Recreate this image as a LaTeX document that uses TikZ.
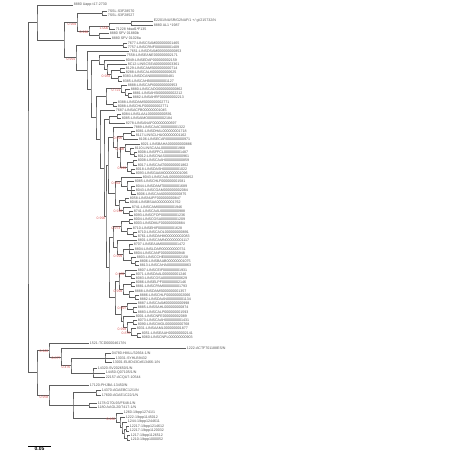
\documentclass[tikz,border=0pt]{standalone}
\usepackage{fontspec}
\setmainfont{Liberation Sans}
\usetikzlibrary{calc}

\definecolor{branchgray}{HTML}{5E5E5E}
\definecolor{labelgray}{HTML}{555555}
\definecolor{bootred}{HTML}{DB5A5A}

\tikzset{
  branch/.style={draw=branchgray, line width=0.5pt},
  tiplab/.style={anchor=west, inner sep=0.6pt, text=labelgray, font=\fontsize{3.6}{4}\selectfont},
  bootlab/.style={anchor=north east, inner sep=0.4pt, text=bootred, font=\fontsize{3.5}{3.9}\selectfont},
  scalelab/.style={anchor=north, inner sep=1pt, font=\fontsize{5}{6}\selectfont\bfseries}
}

% leaf: name, x, y, label
\newcommand{\tip}[4]{\coordinate (#1) at (#2,#3); \node[tiplab] (#1l) at (#1) {#4};}
% inner node: name, x, upper child, lower child
\newcommand{\clade}[4]{%
  \path let \p1=($(#3)!0.5!(#4)$) in coordinate (#1) at (#2pt,\y1);
  \draw[branch] (#3) -| (#1) |- (#4);}
% extra child of a node
\newcommand{\kid}[2]{\draw[branch] (#1) |- (#2);}
% support value
\newcommand{\boot}[2]{\node[bootlab] (#1b) at (#1) {#2};}

\begin{document}
\begin{tikzpicture}[x=1pt, y=-1pt]

  \useasboundingbox (0,0) rectangle (462,462);

  \begin{scope}[xshift=-99pt]

  % top group
  \tip{t1}{172}{5}{8880 Uapp-t17-2730}
  \tip{t2}{206}{11.5}{7SSL-S3F28570}
  \tip{t3}{206}{15.5}{7SSL-S3F28527}
  \tip{t4}{252}{21}{E2201/NUSR/G2NAF/1 +/ gi/215732/N}
  \tip{t5}{252}{25}{8880 AL1 *1987}
  \tip{t6}{214}{29}{71228 hbad1*F135}
  \tip{t7}{208}{33.5}{8880 SFV 01880b}
  \tip{t8}{210}{38}{8880 SFV 01028a}

  \clade{n1}{201}{t2}{t3}
  \clade{n2}{230}{t4}{t5}
  \clade{n3}{208}{n2}{t6}
  \clade{n4}{198}{t7}{t8}
  \clade{n5}{188}{n3}{n4}
  \clade{n6}{176}{n1}{n5}
  \boot{n3}{1.000}
  \boot{n5}{0.996}
  \boot{n6}{0.969}

  % big clade
  \tip{t9}{226}{43.0}{7677-LINSCSAM000000001465}
  \tip{t10}{226}{47.2}{7757-LINSCRNF000000001409}
  \tip{t11}{228}{51.4}{7651-LINSDSAM000000000853}
  \tip{t12}{225}{55.6}{7558-LINSEANE000000002171}
  \tip{t13}{224}{59.8}{8049-LINSEDAP000000002159}
  \tip{t14}{226}{64.0}{8C12-LINSCSEA000000003361}
  \tip{t15}{224}{68.2}{8129-LINSCAMS000000000714}
  \tip{t16}{224}{72.4}{8288-LINSCALK000000000625}
  \tip{t17}{221}{76.6}{8383-LINSDCAN000000000481}
  \tip{t18}{221}{80.8}{8385-LINSCAHB000000001127}
  \tip{t19}{226}{85.0}{8888-LINSCAPI000000000953}
  \tip{t20}{229}{89.2}{8880-LINSCADO000000000862}
  \tip{t21}{231}{93.4}{8881-LINSAHSI000000002212}
  \tip{t22}{231}{97.6}{8882-LINSAHRF000000002213}
  \tip{t23}{216}{101.8}{8388-LINSDAMS000000002771}
  \tip{t24}{216}{106.0}{8088-LINSCHLF000000002771}
  \tip{t25}{214}{110.2}{7687-LINSACFB000000001045}
  \tip{t26}{220}{114.4}{8084-LINSLAAL000000000591}
  \tip{t27}{220}{118.6}{8085-LINSAIMO000000002184}
  \tip{t28}{224}{122.8}{8278-LINSANAF000000000697}
  \tip{t29}{232}{127.0}{7889-LINSCAAC000000001322}
  \tip{t30}{234}{131.2}{8081-LINSDHAL000000001718}
  \tip{t31}{234}{135.4}{8117-LINSCLHU000000001162}
  \tip{t32}{237}{139.6}{8106-LINSECAR000000000971}
  \tip{t33}{239}{143.8}{8021-LINSBAHA000000000886}
  \tip{t34}{233}{148.0}{8110-LINSCAAL000000001968}
  \tip{t35}{236}{152.2}{8008-LINSFFCL000000001487}
  \tip{t36}{236}{156.4}{8012-LINSCNAS000000000961}
  \tip{t37}{236}{160.6}{8008-LINSCAAH000000000859}
  \tip{t38}{236}{164.8}{8017-LINSCAAT000000001862}
  \tip{t39}{234}{169.0}{8018-LINSDASH000000001022}
  \tip{t40}{234}{173.2}{8093-LINSGAAM000000001096}
  \tip{t41}{241}{177.4}{8043-LINSCAAL000000000852}
  \tip{t42}{233}{181.6}{8085-LINSCHLF000000001581}
  \tip{t43}{234}{185.8}{8044-LINSDAMT000000001689}
  \tip{t44}{234}{190.0}{8043-LINSCGAM000000002084}
  \tip{t45}{235}{194.2}{8006-LINSCAIA000000000875}
  \tip{t46}{228}{198.4}{8058-LINSNUPF000000000847}
  \tip{t47}{228}{202.6}{8046-LINSBSAA000000001762}
  \tip{t48}{230}{206.8}{8741-LINSCAMI000000001946}
  \tip{t49}{232}{211.0}{8741-LINSCAAU000000000988}
  \tip{t50}{232}{215.2}{8093-LINSCFOP000000001236}
  \tip{t51}{232}{219.4}{8004-LINSCOSA000000001209}
  \tip{t52}{232}{223.6}{8003-LINSDMLF000000000884}
  \tip{t53}{231}{227.8}{8710-LINSEHIF000000001628}
  \tip{t54}{236}{232.0}{8710-LINSCAOL000000000891}
  \tip{t55}{236}{236.2}{8761-LINSDAHM000000002083}
  \tip{t56}{236}{240.4}{8801-LINSCAMN000000001117}
  \tip{t57}{232}{244.6}{8707-LINSEAAM000000001472}
  \tip{t58}{233}{248.8}{8804-LINSLDAR000000000731}
  \tip{t59}{232}{253.0}{8804-LINSCANF000000000948}
  \tip{t60}{235}{257.2}{8803-LINSCCHE000000002158}
  \tip{t61}{238}{261.4}{8806-LINSBAAB000000001075}
  \tip{t62}{238}{265.6}{8813-LINSCAHA000000000863}
  \tip{t63}{236}{269.8}{8807-LINSCEIF000000001931}
  \tip{t64}{234}{274.0}{8071-LINSDAAL000000001246}
  \tip{t65}{234}{278.2}{8083-LINSCOSA000000000629}
  \tip{t66}{234}{282.4}{8086-LINSELPF000000002146}
  \tip{t67}{234}{286.6}{8881-LINSCPAM000000001793}
  \tip{t68}{233}{290.8}{8888-LINSDAMS000000001357}
  \tip{t69}{238}{295.0}{8886-LINSCHLF000000002066}
  \tip{t70}{238}{299.2}{8882-LINSDAAN000000001134}
  \tip{t71}{236}{303.4}{8887-LINSCAAM000000000998}
  \tip{t72}{236}{307.6}{8885-LINSSAHL000000000874}
  \tip{t73}{236}{311.8}{8883-LINSCALP000000001593}
  \tip{t74}{234}{316.0}{8001-LINSCNFE000000002089}
  \tip{t75}{236}{320.2}{8073-LINSCAAH000000001431}
  \tip{t76}{236}{324.4}{8090-LINSCMOL000000000768}
  \tip{t77}{235}{328.6}{8031-LINSAAML000000001877}
  \tip{t78}{240}{332.8}{8051-LINSEAAH000000002141}
  \tip{t79}{240}{337.0}{8060-LINSCNPL000000000903}

  \clade{P2}{222}{t9}{t10}
  \clade{G2d}{219}{t15}{t16}
  \clade{G2e}{217}{t17}{t18}
  \clade{G2c}{210}{G2d}{G2e}
  \clade{G2b}{206}{t14}{G2c}
  \clade{G2a}{203}{t13}{G2b}
  \clade{G2}{198}{t12}{G2a}
  \clade{G3c}{227}{t21}{t22}
  \clade{G3b}{224}{t20}{G3c}
  \clade{G3a}{220}{t19}{G3b}
  \clade{G3d}{212}{t23}{t24}
  \clade{G3}{205}{G3a}{G3d}
  \clade{G4a}{216}{t26}{t27}
  \clade{G4}{208}{G4a}{t28}
  \clade{G5a}{230}{t30}{t31}
  \clade{G5}{222}{G5a}{t32}
  \clade{G6b}{233}{t35}{t36}
  \clade{G6a}{229}{t34}{G6b}
  \clade{G6}{224}{t33}{G6a}
  \clade{G7a}{232}{t37}{t38}
  \clade{G7b}{230}{t39}{t40}
  \clade{G7}{226}{G7a}{G7b}
  \clade{H1d}{219}{G6}{G7}
  \clade{H1c}{216}{G5}{H1d}
  \clade{H1a}{212}{t29}{H1c}
  \clade{H1h}{230}{t43}{t45}
  \kid{H1h}{t44}
  \clade{H1g}{226}{t42}{H1h}
  \clade{H1e}{220}{t41}{H1g}
  \clade{H1i}{224}{t46}{t47}
  \clade{H1k}{228}{t49}{t50}
  \clade{H1j}{222}{t48}{H1k}
  \clade{H1f}{218}{H1i}{H1j}
  \clade{H1b}{214}{H1e}{H1f}
  \clade{H1}{207}{H1a}{H1b}
  \clade{H2e}{228}{t51}{t52}
  \clade{H2g}{232}{t54}{t55}
  \clade{H2f}{226}{t53}{H2g}
  \clade{H2c}{220}{H2e}{H2f}
  \clade{H2i}{228}{t57}{t59}
  \kid{H2i}{t58}
  \clade{H2k}{234}{t61}{t62}
  \clade{H2j}{230}{t60}{H2k}
  \clade{H2h}{222}{H2i}{H2j}
  \clade{H2d}{216}{t56}{H2h}
  \clade{H2a}{212}{H2c}{H2d}
  \clade{H2o}{230}{t64}{t65}
  \clade{H2n}{224}{t63}{H2o}
  \clade{H2q}{230}{t66}{t67}
  \clade{H2s}{234}{t69}{t70}
  \clade{H2r}{228}{t68}{H2s}
  \clade{H2p}{222}{H2q}{H2r}
  \clade{H2l}{218}{H2n}{H2p}
  \clade{H2u}{232}{t72}{t73}
  \clade{H2t}{226}{t71}{H2u}
  \clade{H2x}{232}{t75}{t76}
  \clade{H2z}{236}{t78}{t79}
  \clade{H2y}{230}{t77}{H2z}
  \clade{H2w}{226}{H2x}{H2y}
  \clade{H2v}{222}{t74}{H2w}
  \clade{H2m}{220}{H2t}{H2v}
  \clade{H2b}{214}{H2l}{H2m}
  \clade{H2}{208}{H2a}{H2b}
  \clade{E7}{205}{H1}{H2}
  \clade{E6}{203}{G4}{E7}
  \clade{E5}{199}{t25}{E6}
  \clade{E4}{195}{G3}{E5}
  \clade{E3}{190}{G2}{E4}
  \clade{E2}{186}{t11}{E3}
  \clade{E}{175}{P2}{E2}

  \boot{G2c}{0.983}
  \boot{G3a}{0.721}
  \boot{G5}{0.995}
  \boot{G6}{0.998}
  \boot{G7}{0.999}
  \boot{H1e}{0.964}
  \boot{H1j}{0.910}
  \boot{H2c}{0.973}
  \boot{H2h}{0.999}
  \boot{H2n}{0.985}
  \boot{H2p}{0.994}
  \boot{H2t}{0.997}
  \boot{H2w}{0.993}
  \boot{H2y}{0.872}
  \boot{E7}{0.990}
  \boot{E}{0.991}

  \clade{n7}{163}{n6}{E}
  \clade{n8}{136}{t1}{n7}

  % lower group
  \tip{t80}{188}{343}{1521-TCD00004617/N}
  \tip{t81}{285}{348}{1222-ACTF701188ES/N}
  \tip{t82}{210}{353.5}{04780-HMLL/32664-1/N}
  \tip{t83}{214}{358}{13031-SYHLB9432}
  \tip{t84}{211}{362.5}{13001-EL8D43Cell13466-1/N}
  \tip{t85}{196}{368.5}{14320-SV202650/1/N}
  \tip{t86}{204}{373}{14450-Q07105/1/N}
  \tip{t87}{204}{377.5}{22157-ACQU7-10544}
  \tip{t88}{188}{385}{17120-PHJBA-13450/N}
  \tip{t89}{200}{390}{14370-AGAEBC12/1/N}
  \tip{t90}{200}{395}{17600-AGAE1C22/1/N}
  \tip{t91}{196}{403.5}{1178-G70L93/F648-1/N}
  \tip{t92}{196}{407.5}{1180-AAGL20/7417-1/N}
  \tip{t93}{222}{413}{1260-1/bpp12741/1}
  \tip{t94}{224}{417.5}{1222-1/bpp1145012}
  \tip{t95}{226}{422}{1244-1/bpp1244611}
  \tip{t96}{228}{426.5}{12217-1/bpp1214612}
  \tip{t97}{228}{431}{12217-1/bpp1120032}
  \tip{t98}{229}{435.5}{1217-1/bpp1126512}
  \tip{t99}{229}{440}{1210-1/bpp1000052}

  \clade{s1}{204}{t82}{t84}
  \kid{s1}{t83}
  \clade{s2}{192}{t85}{t87}
  \kid{s2}{t86}
  \clade{q}{170}{s1}{s2}
  \clade{p}{160}{t81}{q}
  \clade{m}{148}{t80}{p}
  \clade{ag}{195}{t89}{t90}
  \clade{w}{188}{t91}{t92}
  \clade{b5}{226}{t98}{t99}
  \clade{b4}{225}{t96}{t97}
  \clade{b3}{223}{b4}{b5}
  \clade{b2}{221}{t95}{b3}
  \clade{b1}{219}{t94}{b2}
  \clade{bp}{215}{t93}{b1}
  \clade{v}{172}{ag}{bp}
  \kid{v}{w}
  \clade{u}{148}{t88}{v}
  \clade{l}{136}{m}{u}

  \boot{q}{0.476}
  \boot{p}{0.877}
  \boot{m}{0.903}
  \boot{bp}{0.462}
  \boot{u}{0.958}

  % root
  \clade{r}{127}{n8}{l}

  % scale bar
  \coordinate (sb1) at (127,446);
  \coordinate (sb2) at (150,446);
  \draw[branch, draw=black, line width=0.6pt] (sb1) -- (sb2) node[scalelab, midway] (sbl) {0.05};

  \end{scope}

\end{tikzpicture}
\end{document}
